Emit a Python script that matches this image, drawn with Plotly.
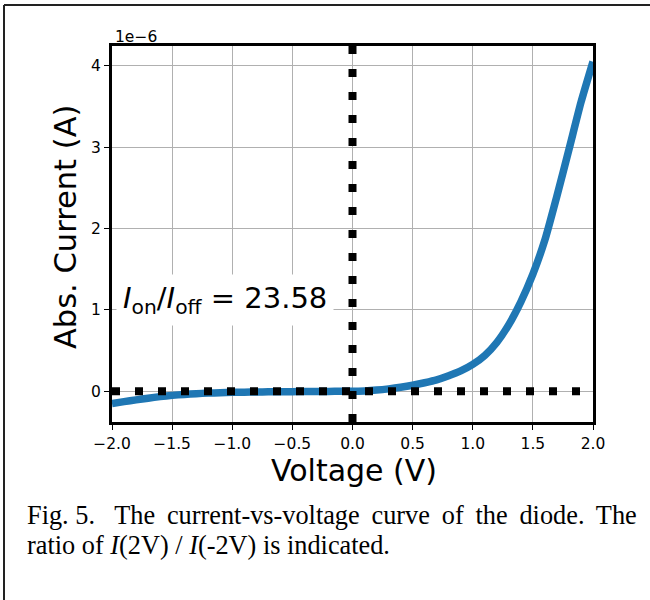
import plotly.graph_objects as go

# Data (current in units of 1e-6 A)
voltage = [-2.0, -1.9, -1.8, -1.7, -1.6, -1.5, -1.4, -1.3, -1.2, -1.1, -1.0,
           -0.9, -0.8, -0.7, -0.6, -0.5, -0.4, -0.3, -0.2, -0.1, 0.0,
           0.1, 0.2, 0.3, 0.4, 0.5, 0.6, 0.7, 0.8, 0.9, 1.0,
           1.1, 1.2, 1.3, 1.4, 1.5, 1.6, 1.7, 1.8, 1.9, 2.0]
current_e6 = [-0.150, -0.127, -0.105, -0.085, -0.065, -0.050, -0.038, -0.029, -0.022, -0.017, -0.013,
              -0.010, -0.008, -0.006, -0.005, -0.004, -0.003, -0.002, -0.001, -0.0005, 0.0,
              0.005, 0.015, 0.030, 0.050, 0.075, 0.105, 0.140, 0.190, 0.250, 0.330,
              0.440, 0.600, 0.820, 1.100, 1.440, 1.860, 2.400, 2.970, 3.550, 4.050]
x_ticks = [-2.0, -1.5, -1.0, -0.5, 0.0, 0.5, 1.0, 1.5, 2.0]
x_ticktext = ["\u22122.0", "\u22121.5", "\u22121.0", "\u22120.5", "0.0", "0.5", "1.0", "1.5", "2.0"]
y_ticks = [0, 1, 2, 3, 4]
y_ticktext = ["0", "1", "2", "3", "4"]
x_range = [-2.0, 2.0]
y_range = [-0.377, 4.242]
ratio_text = "23.58"

# Layout geometry (pixels)
W, H = 650, 600
L, R, T, B = 112, 593, 46, 422

def px_x(p):
    return (p - L) / (R - L)

def px_y(p):
    return (B - p) / (B - T)

fig = go.Figure()
fig.add_trace(go.Scatter(x=voltage, y=current_e6, mode="lines",
                         line=dict(color="#1f77b4", width=7.5, shape="spline", smoothing=0.6),
                         hoverinfo="skip"))
fig.add_trace(go.Scatter(x=x_range, y=[0, 0], mode="lines",
                         line=dict(color="black", width=8, dash="8px,15px"), hoverinfo="skip"))
fig.add_trace(go.Scatter(x=[0, 0], y=y_range, mode="lines",
                         line=dict(color="black", width=8, dash="8px,15px"), hoverinfo="skip"))

axis_common = dict(showgrid=True, gridcolor="#b0b0b0", gridwidth=1, zeroline=False,
                   showline=True, linecolor="black", linewidth=3, mirror=True,
                   ticks="outside", ticklen=5, tickwidth=1, tickcolor="black",
                   tickfont=dict(family="DejaVu Sans", size=15.5, color="black"))
fig.update_xaxes(range=x_range, tickvals=x_ticks, ticktext=x_ticktext, **axis_common)
fig.update_yaxes(range=y_range, tickvals=y_ticks, ticktext=y_ticktext, **axis_common)

annotations = [
    dict(text="<i>I</i><sub>on</sub>/<i>I</i><sub>off</sub> = " + ratio_text,
         xref="paper", yref="paper", x=px_x(116), y=px_y(300), xanchor="left", yanchor="middle",
         showarrow=False, bgcolor="white", borderpad=6,
         font=dict(family="DejaVu Sans", size=29, color="black")),
    dict(text="1e\u22126", xref="paper", yref="paper", x=px_x(113), y=px_y(37),
         xanchor="left", yanchor="middle", showarrow=False,
         font=dict(family="DejaVu Sans", size=15.5, color="black")),
    dict(text="Voltage (V)", xref="paper", yref="paper", x=px_x(354), y=px_y(470),
         xanchor="center", yanchor="middle", showarrow=False,
         font=dict(family="DejaVu Sans", size=30, color="black")),
    dict(text="Abs. Current (A)", xref="paper", yref="paper", x=px_x(65), y=px_y(227),
         xanchor="center", yanchor="middle", showarrow=False, textangle=-90,
         font=dict(family="DejaVu Sans", size=30.5, color="black")),
    dict(text="Fig. 5.\u2002 The\u2009 current-vs-voltage\u2009 curve\u2009 of\u2009 the\u2009 diode.\u2009 The",
         xref="paper", yref="paper", x=px_x(25), y=px_y(515), xanchor="left", yanchor="middle",
         showarrow=False, font=dict(family="Liberation Serif", size=26.3, color="black")),
    dict(text="ratio of <i>I</i>(2V) / <i>I</i>(-2V) is indicated.",
         xref="paper", yref="paper", x=px_x(25), y=px_y(545), xanchor="left", yanchor="middle",
         showarrow=False, font=dict(family="Liberation Serif", size=26.3, color="black")),
]

shapes = [
    dict(type="line", xref="paper", yref="paper", x0=px_x(4), x1=px_x(650), y0=px_y(5), y1=px_y(5),
         line=dict(color="#222222", width=2)),
    dict(type="line", xref="paper", yref="paper", x0=px_x(4), x1=px_x(4), y0=px_y(5), y1=px_y(600),
         line=dict(color="#222222", width=2)),
]

fig.update_layout(width=W, height=H, margin=dict(l=L, r=W - R, t=T, b=H - B),
                  paper_bgcolor="white", plot_bgcolor="white", showlegend=False,
                  annotations=annotations, shapes=shapes)

fig.write_html("out.html", config={"displayModeBar": False},
               post_script="document.body.style.margin='0px';")
